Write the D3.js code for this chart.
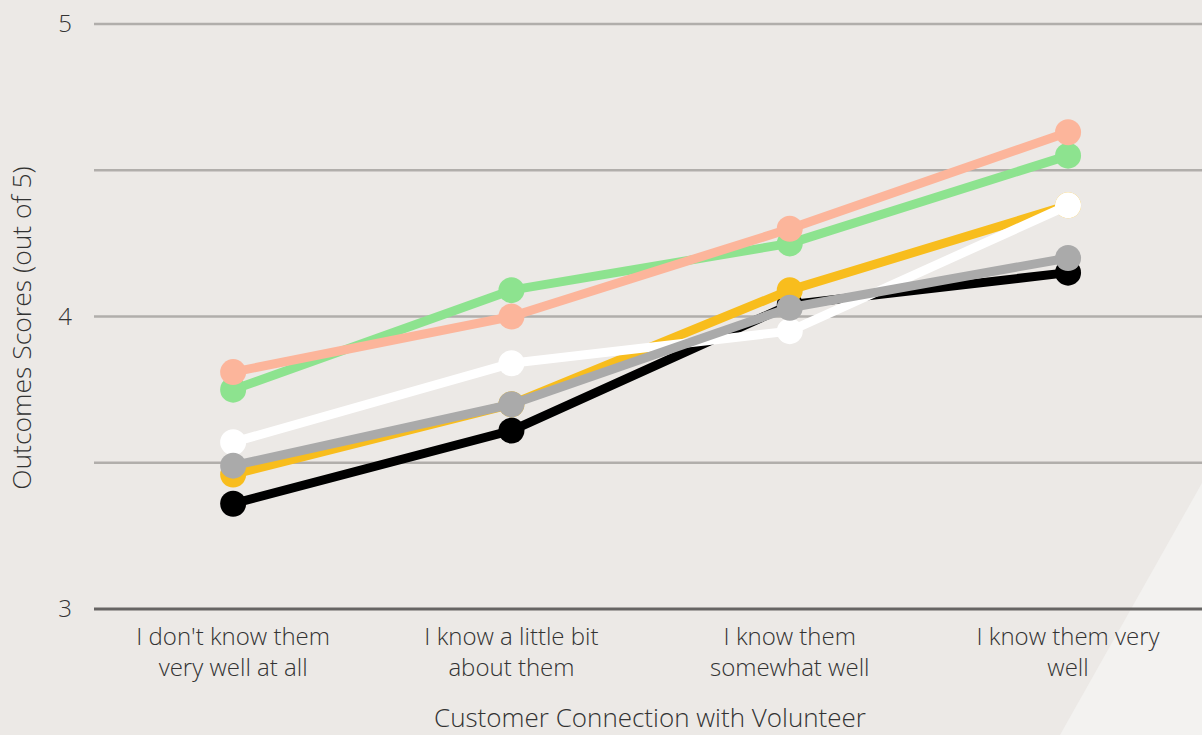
<!DOCTYPE html>
<html>
<head>
<meta charset="utf-8">
<script src="https://cdn.jsdelivr.net/npm/d3@7"></script>
<style>
  html, body { margin: 0; padding: 0; background: #ece9e6; }
  svg { display: block; font-family: "Open Sans", "Noto Sans", sans-serif; }
</style>
</head>
<body>
<svg id="chart" width="1202" height="735"></svg>
<script>
// Connection level with the volunteer (x categories)
const categories = [
  ["I don't know them", "very well at all"],
  ["I know a little bit", "about them"],
  ["I know them", "somewhat well"],
  ["I know them very", "well"]
];

// Outcome scores (out of 5) per group, one value per category
const blackSeries  = [3.36, 3.61, 4.04, 4.15];
const yellowSeries = [3.46, 3.70, 4.09, 4.38];
const whiteSeries  = [3.57, 3.84, 3.95, 4.38];
const graySeries   = [3.49, 3.70, 4.03, 4.20];
const greenSeries  = [3.75, 4.09, 4.25, 4.55];
const salmonSeries = [3.81, 4.00, 4.30, 4.63];

const yTicks = [3, 3.5, 4, 4.5, 5];
const yTickLabels = ["3", "", "4", "", "5"];

// Drawing order (later lines sit on top)
const seriesList = [blackSeries, yellowSeries, whiteSeries, graySeries, greenSeries, salmonSeries];
const seriesColors = ["#000000", "#f8bd1d", "#ffffff", "#aaaaaa", "#8de38f", "#fcb59b"];

const W = 1202, H = 735;
const svg = d3.select("#chart");

// soft lighter wedge in the lower right corner
svg.append("polygon")
  .attr("points", `${W},483 1060,${H} ${W},${H}`)
  .attr("fill", "#f3f2f0");

const plotLeft = 94, plotTop = 24, plotBottom = 609;
const step = 278.3;

const x = d3.scalePoint()
  .domain(d3.range(categories.length))
  .range([plotLeft, plotLeft + step * categories.length])
  .padding(0.5);

const y = d3.scaleLinear().domain([3, 5]).range([plotBottom, plotTop]);

// horizontal gridlines
svg.append("g").selectAll("line")
  .data(yTicks.filter(t => t !== 3))
  .join("line")
  .attr("x1", plotLeft).attr("x2", W)
  .attr("y1", d => y(d)).attr("y2", d => y(d))
  .attr("stroke", "#b1aeab").attr("stroke-width", 2.5);

// baseline
svg.append("line")
  .attr("x1", plotLeft).attr("x2", W)
  .attr("y1", y(3)).attr("y2", y(3))
  .attr("stroke", "#666463").attr("stroke-width", 3);

// y tick labels
svg.append("g").selectAll("text")
  .data(yTicks.map((t, i) => ({ t, label: yTickLabels[i] })).filter(d => d.label))
  .join("text")
  .attr("x", 72).attr("y", d => y(d.t))
  .attr("dy", "0.35em")
  .attr("text-anchor", "end")
  .attr("font-size", 24).attr("font-weight", 300)
  .attr("fill", "#333")
  .text(d => d.label);

// x category labels
const xl = svg.append("g").selectAll("text")
  .data(categories)
  .join("text")
  .attr("x", (d, i) => x(i))
  .attr("y", 645)
  .attr("text-anchor", "middle")
  .attr("font-size", 24).attr("font-weight", 300)
  .attr("fill", "#333");
xl.selectAll("tspan")
  .data(d => d)
  .join("tspan")
  .attr("x", function () { return d3.select(this.parentNode).attr("x"); })
  .attr("dy", (d, i) => i === 0 ? 0 : 31)
  .text(d => d);

// axis titles
svg.append("text")
  .attr("x", 650).attr("y", 727)
  .attr("text-anchor", "middle")
  .attr("font-size", 26).attr("font-weight", 300)
  .attr("fill", "#333")
  .text("Customer Connection with Volunteer");

svg.append("text")
  .attr("transform", `translate(31,328) rotate(-90)`)
  .attr("text-anchor", "middle")
  .attr("font-size", 26.5).attr("font-weight", 300)
  .attr("fill", "#333")
  .text("Outcomes Scores (out of 5)");

// series lines with markers
const line = d3.line().x((d, i) => x(i)).y(d => y(d));
const groups = svg.append("g").selectAll("g")
  .data(seriesList)
  .join("g");

groups.append("path")
  .attr("d", d => line(d))
  .attr("fill", "none")
  .attr("stroke", (d, i) => seriesColors[i])
  .attr("stroke-width", 9)
  .attr("stroke-linejoin", "round");

groups.each(function (d, i) {
  d3.select(this).selectAll("circle")
    .data(d)
    .join("circle")
    .attr("cx", (v, j) => x(j))
    .attr("cy", v => y(v))
    .attr("r", 13)
    .attr("fill", seriesColors[i]);
});
</script>
</body>
</html>
